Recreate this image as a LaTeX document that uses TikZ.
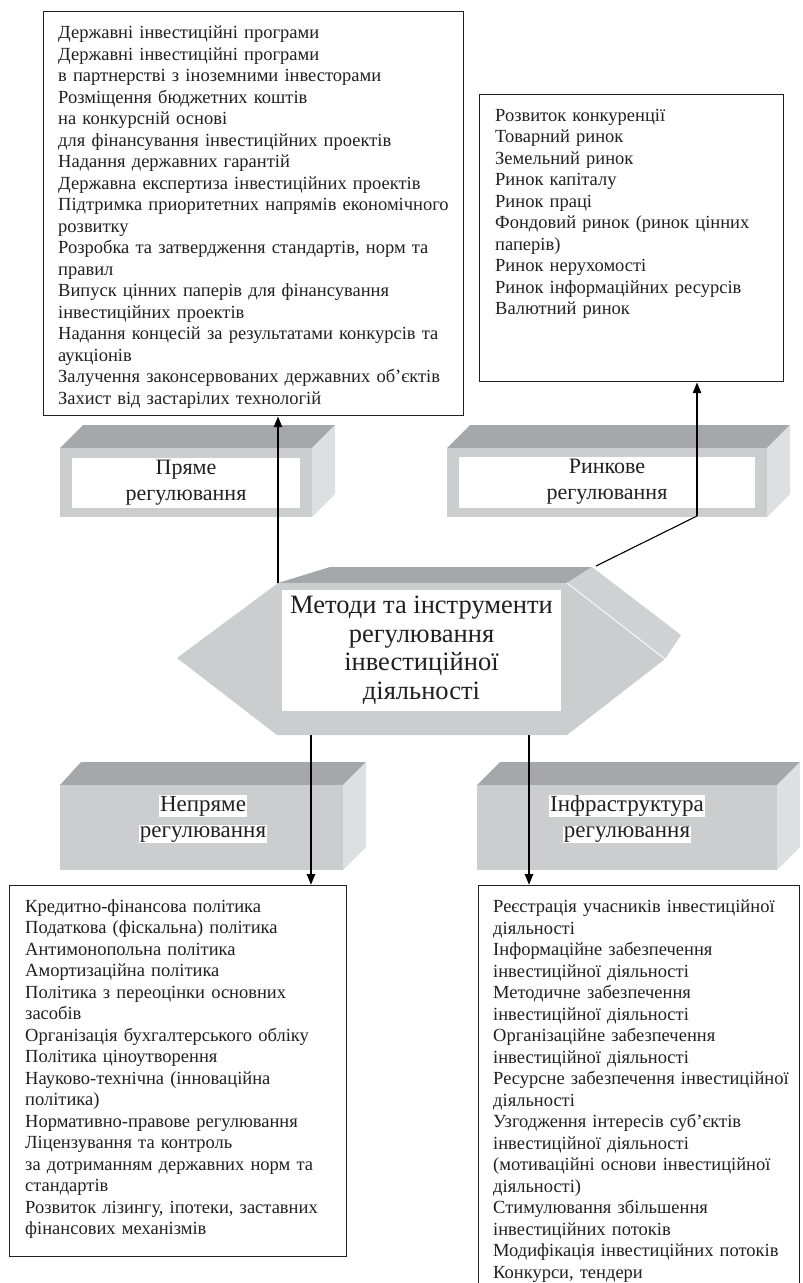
\documentclass[tikz,border=0pt]{standalone}
\usepackage{fontspec}
\setmainfont{Liberation Serif}
\usetikzlibrary{arrows.meta,calc}

\definecolor{topgray}{RGB}{166,167,171}
\definecolor{frontgray}{RGB}{204,205,207}
\definecolor{sidegray}{RGB}{222,223,225}
\definecolor{inkgray}{RGB}{35,31,32}

\begin{document}
\begin{tikzpicture}
[x=1pt, y=-1pt,
 frame/.style={draw=inkgray, line width=1.2pt, fill=white, inner sep=0pt, anchor=north west},
 listtext/.style={anchor=north west, align=left, inner sep=0pt, text width=420pt, text=inkgray, font=\fontsize{18.5}{21.5}\selectfont},
 boxlabel/.style={fill=white, inner sep=0pt, align=center, text=inkgray, font=\fontsize{22}{26}\selectfont},
 lowlabel/.style={inner sep=0pt, align=center, text=inkgray, font=\fontsize{23}{26}\selectfont\setlength{\fboxsep}{1pt}},
 hexlabel/.style={fill=white, inner sep=0pt, align=center, text=inkgray, font=\fontsize{26.5}{28.5}\selectfont},
 arr/.style={line width=2.4pt, draw=black, -{Triangle[length=11pt, width=8pt]}}]
    \useasboundingbox (0,0) rectangle (803,1283);
    \clip (0,0) rectangle (803,1283);

    % list boxes
    \node[frame, minimum width=420, minimum height=404] (progbox) at (43,11) {};
    \node[listtext] (prog) at (58,26) {Державні інвестиційні програми\\
        Державні інвестиційні програми\\
        в партнерстві з іноземними інвесторами\\
        Розміщення бюджетних коштів\\
        на конкурсній основі\\
        для фінансування інвестиційних проектів\\
        Надання державних гарантій\\
        Державна експертиза інвестиційних проектів\\
        Підтримка приоритетних напрямів економічного\\
        розвитку\\
        Розробка та затвердження стандартів, норм та\\
        правил\\
        Випуск цінних паперів для фінансування\\
        інвестиційних проектів\\
        Надання концесій за результатами конкурсів та\\
        аукціонів\\
        Залучення законсервованих державних об’єктів\\
        Захист від застарілих технологій};
    \node[frame, minimum width=304, minimum height=287] (mktbox) at (479,94) {};
    \node[listtext] (mkt) at (495,109) {Розвиток конкуренції\\
        Товарний ринок\\
        Земельний ринок\\
        Ринок капіталу\\
        Ринок праці\\
        Фондовий ринок (ринок цінних\\
        паперів)\\
        Ринок нерухомості\\
        Ринок інформаційних ресурсів\\
        Валютний ринок};
    \node[frame, minimum width=337, minimum height=371] (indbox) at (9,885) {};
    \node[listtext] (ind) at (25,899) {Кредитно-фінансова політика\\
        Податкова (фіскальна) політика\\
        Антимонопольна політика\\
        Амортизаційна політика\\
        Політика з переоцінки основних\\
        засобів\\
        Організація бухгалтерського обліку\\
        Політика ціноутворення\\
        Науково-технічна (інноваційна\\
        політика)\\
        Нормативно-правове регулювання\\
        Ліцензування та контроль\\
        за дотриманням державних норм та\\
        стандартів\\
        Розвиток лізингу, іпотеки, заставних\\
        фінансових механізмів};
    \node[frame, minimum width=321, minimum height=430] (infbox) at (478,885) {};
    \node[listtext] (inf) at (493,900) {Реєстрація учасників інвестиційної\\
        діяльності\\
        Інформаційне забезпечення\\
        інвестиційної діяльності\\
        Методичне забезпечення\\
        інвестиційної діяльності\\
        Організаційне забезпечення\\
        інвестиційної діяльності\\
        Ресурсне забезпечення інвестиційної\\
        діяльності\\
        Узгодження інтересів суб’єктів\\
        інвестиційної діяльності\\
        (мотиваційні основи інвестиційної\\
        діяльності)\\
        Стимулювання збільшення\\
        інвестиційних потоків\\
        Модифікація інвестиційних потоків\\
        Конкурси, тендери};

    % 3d blocks
    \fill[topgray] (60,448) -- (83,425) -- (335,425) -- (312,448) -- cycle;
    \fill[frontgray] (60,448) rectangle (312,517);
    \fill[sidegray] (312,448) -- (335,425) -- (335,494) -- (312,517) -- cycle;
    \node[boxlabel, minimum width=228, minimum height=50] (direct) at (186,483) {Пряме\\регулювання};

    \fill[topgray] (447,448) -- (470,425) -- (790,425) -- (767,448) -- cycle;
    \fill[frontgray] (447,448) rectangle (767,517);
    \fill[sidegray] (767,448) -- (790,425) -- (790,494) -- (767,517) -- cycle;
    \node[boxlabel, minimum width=296, minimum height=51] (market) at (607,482) {Ринкове\\регулювання};

    \fill[topgray] (60,785) -- (81,762) -- (366,762) -- (343,785) -- cycle;
    \fill[frontgray] (60,785) rectangle (343,870);
    \fill[sidegray] (343,785) -- (366,762) -- (366,847) -- (343,870) -- cycle;
    \node[lowlabel] (indirect) at (203,819) {\colorbox{white}{Непряме}\\\colorbox{white}{регулювання}};

    \fill[topgray] (477,785) -- (500,762) -- (800,762) -- (777,785) -- cycle;
    \fill[frontgray] (477,785) rectangle (777,870);
    \fill[sidegray] (777,785) -- (800,762) -- (800,847) -- (777,870) -- cycle;
    \node[lowlabel] (infra) at (627,819) {\colorbox{white}{Інфраструктура}\\\colorbox{white}{регулювання}};

    % central hexagon
    \coordinate (hexA) at (278,583);
    \coordinate (hexB) at (567,583);
    \coordinate (hexC) at (665,659);
    \coordinate (hexD) at (567,735);
    \coordinate (hexE) at (277,735);
    \coordinate (hexF) at (177,658);
    \fill[topgray] (hexA) -- (330,567) -- (592,567) -- (hexB) -- cycle;
    \fill[frontgray!92!white] (hexB) -- (592,567) -- (681,635) -- (hexC) -- cycle;
    \fill[frontgray] (hexA) -- (hexB) -- (hexC) -- (hexD) -- (hexE) -- (hexF) -- cycle;
    \draw[white!85!frontgray, line width=1pt] (hexB) -- (hexC);
    \node[hexlabel, minimum width=279, minimum height=121] (methods) at (421.5,650.5) {Методи та інструменти\\регулювання\\інвестиційної\\діяльності};

    % connectors
    \coordinate (kink) at (697,516);
    \coordinate (outR) at (596,566);
    \coordinate (outL) at (311,735);
    \coordinate (outM) at (529,735);
    \draw[arr] (hexA) -- (hexA |- progbox.south);
    \draw[black, line width=1.1pt] (outR) -- (kink);
    \draw[arr] (kink) -- (kink |- mktbox.south);
    \draw[arr] (outL) -- (outL |- indbox.north);
    \draw[arr] (outM) -- (outM |- infbox.north);
\end{tikzpicture}
\end{document}
